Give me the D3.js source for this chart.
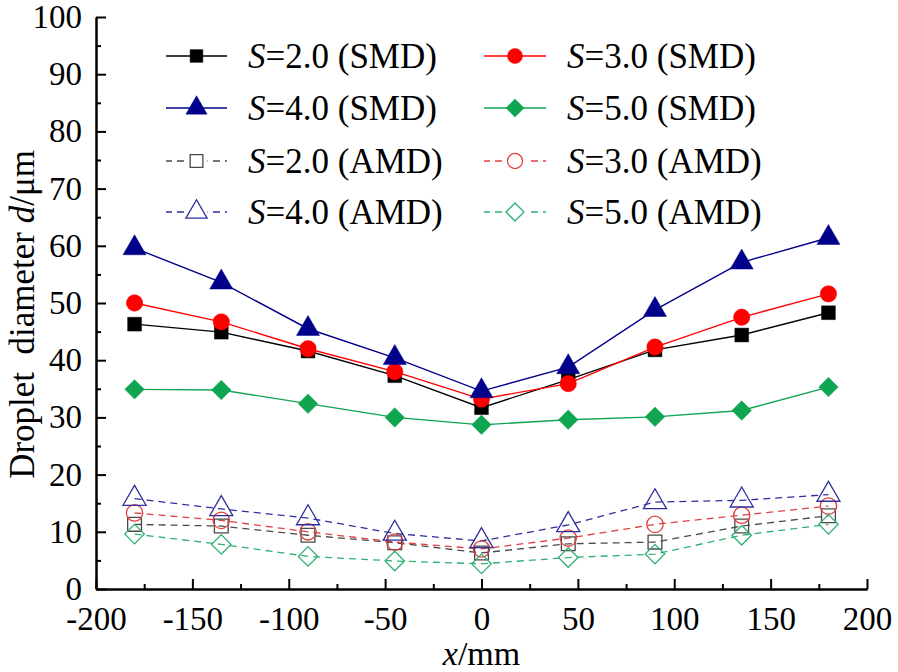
<!DOCTYPE html>
<html>
<head>
<meta charset="utf-8">
<script src="https://cdn.jsdelivr.net/npm/d3@7"></script>
<style>
  body { margin: 0; background: #fff; }
  svg { display: block; }
  text { font-family: "Liberation Serif", "Times New Roman", serif; fill: #000; }
</style>
</head>
<body>
<svg id="chart" width="898" height="672"></svg>
<script>
const xPositions = [-180, -135, -90, -45, 0, 45, 90, 135, 180];

const smdS2 = [46.3, 44.9, 41.6, 37.3, 31.7, 36.6, 41.8, 44.4, 48.3];
const smdS3 = [50.0, 46.7, 42.0, 38.0, 33.2, 35.9, 42.3, 47.5, 51.6];
const smdS4 = [59.6, 53.6, 45.5, 40.4, 34.6, 38.8, 48.8, 57.1, 61.4];
const smdS5 = [34.9, 34.8, 32.4, 30.0, 28.7, 29.6, 30.1, 31.2, 35.3];

const amdS2 = [11.3, 11.0, 9.4, 8.1, 6.3, 7.9, 8.2, 11.0, 12.8];
const amdS3 = [13.3, 12.0, 10.0, 8.2, 7.0, 8.9, 11.3, 12.9, 14.5];
const amdS4 = [15.8, 14.0, 12.4, 9.7, 8.4, 11.2, 15.2, 15.5, 16.5];
const amdS5 = [9.6, 7.8, 5.7, 4.9, 4.4, 5.5, 6.1, 9.4, 11.3];

const xTicks = [-200, -150, -100, -50, 0, 50, 100, 150, 200];
const yTicks = [0, 10, 20, 30, 40, 50, 60, 70, 80, 90, 100];

const seriesLabels = ["2.0 (SMD)", "3.0 (SMD)", "4.0 (SMD)", "5.0 (SMD)",
                      "2.0 (AMD)", "3.0 (AMD)", "4.0 (AMD)", "5.0 (AMD)"];

const series = [
  { values: smdS2, color: "#000000", shape: "square",   filled: true,  dashed: false, label: seriesLabels[0] },
  { values: smdS3, color: "#ff0000", shape: "circle",   filled: true,  dashed: false, label: seriesLabels[1] },
  { values: smdS4, color: "#00008a", shape: "triangle", filled: true,  dashed: false, label: seriesLabels[2] },
  { values: smdS5, color: "#10a550", shape: "diamond",  filled: true,  dashed: false, label: seriesLabels[3] },
  { values: amdS2, color: "#4a4a4a", shape: "square",   filled: false, dashed: true,  label: seriesLabels[4] },
  { values: amdS3, color: "#e04040", shape: "circle",   filled: false, dashed: true,  label: seriesLabels[5] },
  { values: amdS4, color: "#2f2f9c", shape: "triangle", filled: false, dashed: true,  label: seriesLabels[6] },
  { values: amdS5, color: "#30b074", shape: "diamond",  filled: false, dashed: true,  label: seriesLabels[7] }
];

const svg = d3.select("#chart");
const plotLeft = 96, plotRight = 867, plotTop = 17, plotBottom = 589;

const x = d3.scaleLinear().domain([-200, 200]).range([plotLeft, plotRight]);
const y = d3.scaleLinear().domain([0, 100]).range([plotBottom, plotTop]);

function symbolPath(shape, size) {
  const types = { square: d3.symbolSquare, circle: d3.symbolCircle, triangle: d3.symbolTriangle, diamond: d3.symbolSquare };
  return d3.symbol().type(types[shape]).size(size)();
}
const sizes = { square: 190, circle: 210, triangle: 230, diamond: 190 };

// Axes
const xAxisMajor = d3.axisBottom(x).tickValues(xTicks).tickSizeInner(-10).tickSizeOuter(0).tickPadding(18).tickFormat(d3.format("d"));
const xAxisMinor = d3.axisBottom(x).tickValues(d3.range(-175, 200, 50)).tickSizeInner(-5).tickSizeOuter(0).tickFormat("");
const yAxisMajor = d3.axisLeft(y).tickValues(yTicks).tickSizeInner(-10).tickSizeOuter(0).tickPadding(14).tickFormat(d3.format("d"));
const yAxisMinor = d3.axisLeft(y).tickValues(d3.range(5, 100, 10)).tickSizeInner(-5).tickSizeOuter(0).tickFormat("");

function styleAxis(g) {
  g.select(".domain").attr("stroke", "#000").attr("stroke-width", 2);
  g.selectAll(".tick line").attr("stroke", "#000").attr("stroke-width", 2);
  g.selectAll(".tick text").style("font-family", "'Liberation Serif', serif").style("font-size", "33px").attr("fill", "#000");
}

svg.append("g").attr("transform", `translate(0,${plotBottom})`).call(xAxisMinor).call(styleAxis);
const gx = svg.append("g").attr("transform", `translate(0,${plotBottom})`).call(xAxisMajor).call(styleAxis);
gx.selectAll(".tick text").text(d => d < 0 ? "-" + Math.abs(d) : d);
svg.append("g").attr("transform", `translate(${plotLeft},0)`).call(yAxisMinor).call(styleAxis);
svg.append("g").attr("transform", `translate(${plotLeft},0)`).call(yAxisMajor).call(styleAxis);

// Lines and markers
const line = d3.line().x((d, i) => x(xPositions[i])).y(d => y(d));

const order = [4, 5, 6, 7, 0, 1, 2, 3];
order.forEach(k => {
  const s = series[k];
  svg.append("path")
    .datum(s.values)
    .attr("d", line)
    .attr("fill", "none")
    .attr("stroke", s.color)
    .attr("stroke-width", s.dashed ? 1.3 : 1.4)
    .attr("stroke-dasharray", s.dashed ? "7,5" : null);
});
order.forEach(k => {
  const s = series[k];
  svg.append("g").selectAll("path")
    .data(s.values)
    .join("path")
    .attr("d", symbolPath(s.shape, sizes[s.shape]))
    .attr("transform", (d, i) => `translate(${x(xPositions[i])},${y(d)})` + (s.shape === "diamond" ? " rotate(45)" : ""))
    .attr("fill", s.filled ? s.color : "none")
    .attr("stroke", s.color)
    .attr("stroke-width", s.filled ? 0.5 : 1.3);
});

// Legend
const legCols = [{ x0: 166, x1: 227, tx: 248 }, { x0: 484, x1: 546, tx: 567 }];
const legRows = [56, 108, 161, 212];
series.forEach((s, k) => {
  const col = legCols[k % 2];
  const row = legRows[Math.floor(k / 2)];
  const g = svg.append("g");
  const cx = (col.x0 + col.x1) / 2;
  g.append("line")
    .attr("x1", col.x0).attr("x2", col.x1).attr("y1", row).attr("y2", row)
    .attr("stroke", s.color).attr("stroke-width", 1.4)
    .attr("stroke-dasharray", s.dashed ? "7,5" : null)
    .attr("stroke-dashoffset", s.dashed ? 1 : null);
  if (s.dashed) {
    g.append("rect").attr("x", cx - 11).attr("y", row - 3).attr("width", 22).attr("height", 6).attr("fill", "#fff");
  }
  g.append("path")
    .attr("d", symbolPath(s.shape, sizes[s.shape] * 0.85))
    .attr("transform", `translate(${cx},${row})` + (s.shape === "diamond" ? " rotate(45)" : ""))
    .attr("fill", s.filled ? s.color : "#fff")
    .attr("stroke", s.color)
    .attr("stroke-width", s.filled ? 0.5 : 1.3);
  const t = g.append("text")
    .attr("x", col.tx).attr("y", row + 12)
    .style("font-size", "35px");
  t.append("tspan").attr("font-style", "italic").text("S");
  t.append("tspan").text("=" + s.label);
});

// Axis titles
const xt = svg.append("text")
  .attr("x", x(0)).attr("y", 665)
  .attr("text-anchor", "middle")
  .style("font-size", "34px");
xt.append("tspan").attr("font-style", "italic").text("x");
xt.append("tspan").text("/mm");

const yt = svg.append("text")
  .attr("transform", `translate(34,${y(48)}) rotate(-90)`)
  .attr("text-anchor", "middle")
  .style("font-size", "35px");
yt.append("tspan").text("Droplet\u00a0 diameter ");
yt.append("tspan").attr("font-style", "italic").text("d");
yt.append("tspan").text("/μm");
</script>
</body>
</html>
